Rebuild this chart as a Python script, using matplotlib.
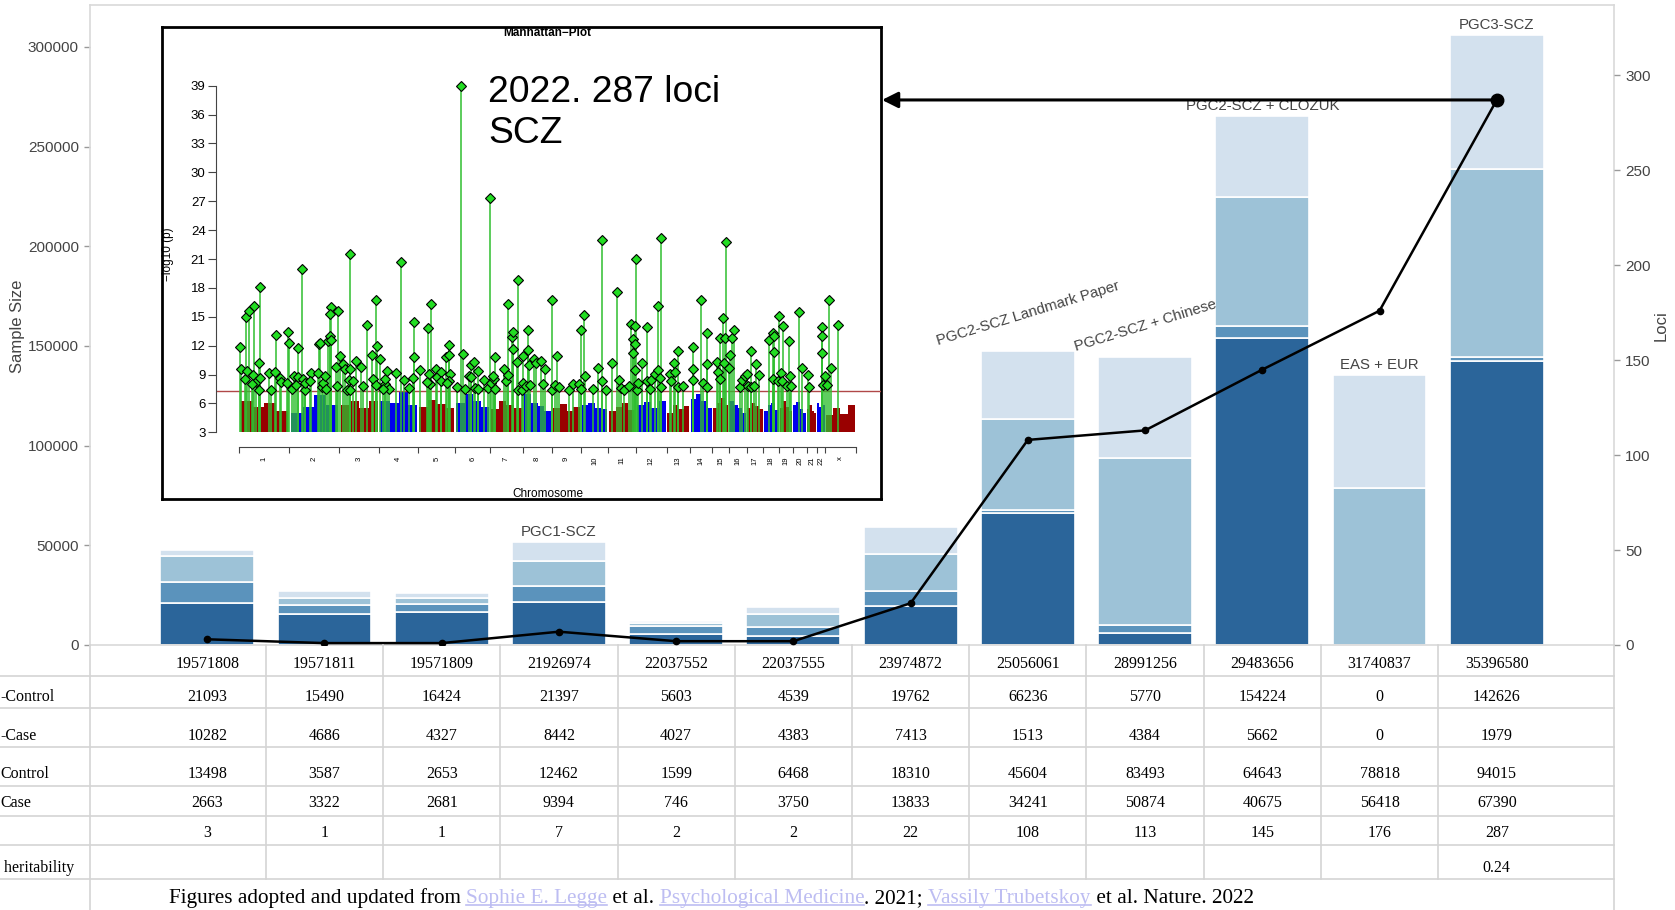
import numpy as np
import matplotlib
matplotlib.use("Agg")
import matplotlib.pyplot as plt
from matplotlib.transforms import blended_transform_factory

# --- study table -------------------------------------------------------------
pmid = ["19571808", "19571811", "19571809", "21926974", "22037552", "22037555",
        "23974872", "25056061", "28991256", "29483656", "31740837", "35396580"]
rep_control = [21093, 15490, 16424, 21397, 5603, 4539, 19762, 66236, 5770, 154224, 0, 142626]
rep_case = [10282, 4686, 4327, 8442, 4027, 4383, 7413, 1513, 4384, 5662, 0, 1979]
control = [13498, 3587, 2653, 12462, 1599, 6468, 18310, 45604, 83493, 64643, 78818, 94015]
case = [2663, 3322, 2681, 9394, 746, 3750, 13833, 34241, 50874, 40675, 56418, 67390]
loci = [3, 1, 1, 7, 2, 2, 22, 108, 113, 145, 176, 287]
heritability = ["", "", "", "", "", "", "", "", "", "", "", "0.24"]
row_labels = ["-Control", "-Case", "Control", "Case", "", " heritability"]

study_names = {3: "PGC1-SCZ", 7: "PGC2-SCZ Landmark Paper", 8: "PGC2-SCZ + Chinese",
               9: "PGC2-SCZ + CLOZUK", 10: "EAS + EUR", 11: "PGC3-SCZ"}
name_rotation = {7: 17, 8: 17}

seg_colors = ["#2b659a", "#5b93bc", "#9dc2d7", "#d3e1ee"]

# --- Manhattan inset ---------------------------------------------------------
chrom_names = [str(i) for i in range(1, 23)] + ["x"]
chrom_len = [250, 250, 200, 195, 185, 174, 163, 148, 142, 138, 137, 155,
             116, 112, 83, 89, 83, 80, 67, 70, 50, 42, 153]
# background band top (-log10 p), four bins per chromosome
band_top = [
    [6.3, 5.6, 6.0, 5.2], [5.0, 5.6, 6.9, 5.8], [5.8, 6.2, 5.5, 6.3], [6.2, 6.0, 7.3, 5.8],
    [5.6, 6.4, 5.9, 5.5], [6.0, 7.0, 6.2, 5.6], [5.4, 6.3, 5.8, 5.5], [7.0, 6.0, 5.7, 5.2],
    [5.5, 5.9, 5.2, 5.6], [5.8, 6.0, 5.5, 5.4], [5.2, 5.6, 6.0, 5.3], [5.8, 6.1, 5.5, 6.2],
    [5.0, 5.8, 5.4, 5.7], [6.5, 7.0, 6.2, 5.5], [5.5, 6.0, 6.6, 5.8], [6.2, 5.8, 5.5, 5.0],
    [5.5, 6.0, 5.7, 5.4], [5.2, 5.8, 6.0, 5.3], [5.5, 6.2, 5.6, 5.2], [5.8, 6.1, 5.4, 5.0],
    [5.4, 5.8, 5.2, 5.0], [6.0, 5.6, 5.3, 5.8], [4.8, 5.5, 4.9, 5.8]]
band_colors = ["#990000", "#0000ee"]

# lead SNPs: cumulative genome position, -log10 p
hits = [
    (4, 11.9), (9, 9.6), (32, 15.0), (30, 8.5), (37, 9.4), (47, 15.6), (67, 8.9), (75, 16.1),
    (82, 8.2), (62, 8.0), (99, 10.2), (102, 18.1), (99, 7.4), (104, 8.6), (159, 7.4), (150, 9.2),
    (179, 9.3), (182, 13.1), (204, 8.6), (210, 8.2), (237, 8.1), (245, 13.4),
    (250, 12.3), (262, 7.5), (274, 8.8), (282, 7.9), (292, 11.8), (292, 8.7), (314, 20.0),
    (320, 8.5), (330, 7.4), (329, 8.1), (359, 9.2), (354, 8.3), (392, 9.2), (400, 12.2),
    (405, 12.3), (412, 7.7), (417, 8.1), (429, 8.8), (432, 7.5), (444, 12.5), (455, 13.0),
    (459, 12.6), (457, 16.0), (455, 15.3), (492, 15.6), (484, 9.8), (489, 7.8),
    (504, 10.9), (520, 10.1), (529, 9.6), (537, 7.4), (554, 21.5), (555, 9.6), (555, 7.4),
    (550, 8.4), (567, 8.3), (584, 10.4), (609, 9.8), (620, 7.8), (640, 14.1), (664, 11.0),
    (667, 8.5), (684, 7.9), (687, 12.0), (685, 16.7), (704, 10.6),
    (729, 8.0), (729, 8.5), (737, 9.4), (749, 7.5), (720, 7.5), (785, 9.2), (807, 20.7),
    (824, 8.4), (849, 7.6), (874, 14.5), (875, 10.8), (870, 8.6),
    (904, 9.5), (942, 13.8), (947, 9.1), (957, 16.3), (954, 8.0), (940, 8.2), (984, 9.6),
    (987, 8.7), (1007, 9.3), (1007, 8.3), (1034, 10.8), (1049, 12.1), (1049, 11.0),
    (1054, 9.1), (1050, 8.3), (1040, 8.1),
    (1090, 7.7), (1107, 39.0), (1120, 11.1), (1129, 7.5), (1149, 8.8), (1157, 8.7),
    (1157, 10.0), (1174, 10.3), (1179, 7.6), (1192, 9.4), (1195, 7.5), (1225, 8.4),
    (1242, 7.6), (1254, 27.3),
    (1260, 8.1), (1272, 8.5), (1279, 10.8), (1270, 8.8), (1279, 7.5), (1325, 9.6),
    (1334, 8.3), (1342, 16.3), (1345, 9.0), (1362, 12.9), (1367, 13.4), (1367, 11.7),
    (1387, 10.3), (1392, 18.8), (1395, 7.4), (1417, 10.9), (1414, 7.4),
    (1420, 8.1), (1434, 7.8), (1442, 11.6), (1442, 13.6), (1450, 10.0), (1454, 7.9),
    (1474, 10.6), (1484, 10.2), (1507, 10.4), (1529, 9.6), (1520, 8.0), (1562, 16.7),
    (1562, 7.4),
    (1587, 10.9), (1579, 7.9), (1600, 7.7), (1650, 7.4), (1667, 8.0), (1699, 8.0),
    (1709, 13.6), (1710, 7.5),
    (1725, 15.2), (1729, 8.8), (1770, 7.5), (1795, 9.7), (1812, 23.0), (1812, 8.3),
    (1832, 7.4),
    (1865, 10.2), (1890, 17.6), (1899, 8.4), (1909, 7.6), (1925, 7.4), (1950, 7.8),
    (1957, 14.3), (1967, 12.7), (1970, 11.2), (1979, 14.0), (1979, 9.5), (1980, 12.2),
    (1982, 21.0), (1990, 7.4), (1995, 8.1), (2012, 10.2), (2037, 8.3), (2039, 13.9),
    (2054, 7.5), (2057, 8.4), (2079, 9.1), (2092, 16.1), (2095, 9.5), (2104, 8.6),
    (2107, 23.2), (2109, 7.7),
    (2154, 9.1), (2159, 8.3), (2175, 10.2), (2179, 9.3), (2195, 11.4), (2195, 7.7),
    (2220, 7.8),
    (2267, 11.9), (2267, 9.6), (2267, 8.4), (2309, 16.7), (2320, 8.1), (2337, 13.3),
    (2337, 10.1), (2340, 7.7),
    (2387, 10.3), (2392, 9.3), (2404, 8.5), (2404, 12.8), (2420, 14.9), (2425, 10.2),
    (2429, 12.8), (2434, 22.8),
    (2450, 9.7), (2454, 11.0), (2462, 12.8), (2475, 13.6), (2504, 7.7), (2515, 8.4),
    (2529, 8.8),
    (2540, 9.1), (2545, 7.8), (2557, 11.4), (2559, 7.7), (2575, 7.8), (2584, 10.1),
    (2600, 8.9),
    (2649, 12.6), (2667, 13.3), (2670, 8.5), (2674, 13.0), (2675, 11.3), (2695, 8.3),
    (2699, 15.1),
    (2709, 9.2), (2715, 8.3), (2720, 14.0), (2737, 7.8), (2749, 12.5), (2754, 8.8),
    (2757, 7.8),
    (2797, 15.5), (2812, 9.7), (2842, 9.0), (2847, 7.7),
    (2915, 13.9), (2915, 13.0), (2915, 11.2), (2917, 7.9),
    (2929, 8.8), (2937, 7.9), (2947, 16.7), (2957, 9.7), (2995, 14.1)]
gw_threshold = 7.3

W, H = 1675, 910
SANS = "Liberation Sans"
SERIF = "Liberation Serif"
plt.rcParams["font.family"] = [SANS, "DejaVu Sans"]

fig = plt.figure(figsize=(W / 100, H / 100), dpi=100)


def fx(px):
    return px / W


def fy(py):
    return 1 - py / H


def box(l, t, r, b):
    return [fx(l), fy(b), fx(r) - fx(l), fy(t) - fy(b)]


# --- stacked bars ------------------------------------------------------------
ax = fig.add_axes(box(90, 5, 1614, 645))
x = np.arange(len(pmid))
bottom = np.zeros(len(x))
for vals, col in zip([rep_control, rep_case, control, case], seg_colors):
    ax.bar(x, vals, 0.8, bottom=bottom, color=col, edgecolor="white", linewidth=1.2)
    bottom += np.array(vals)
ax.set_xlim(-1, 12)
ax.set_ylim(0, 321000)
ax.set_xticks([])
ax.set_yticks(np.arange(0, 300001, 50000))
ax.tick_params(axis="y", length=4, width=1, color="#999999", labelcolor="#444444",
               labelsize=11, pad=4)
for s in ax.spines.values():
    s.set_color("#d9d9d9")
    s.set_linewidth(1.2)

for i, name in study_names.items():
    ax.annotate(name, (i, bottom[i]), xytext=(0, 3), textcoords="offset pixels",
                ha="center", va="bottom", fontsize=10.8, color="#444444",
                rotation=name_rotation.get(i, 0))

fig.text(fx(18), fy(326), "Sample Size", rotation=90, ha="center", va="center",
         fontsize=12, color="#444444")

# --- loci line ---------------------------------------------------------------
ax2 = ax.twinx()
ax2.plot(x, loci, color="black", lw=1.8, marker="o", ms=4.5, zorder=3)
ax2.plot(x[-1], loci[-1], "o", color="black", ms=9, zorder=4)
ax2.set_ylim(0, 337)
ax2.set_yticks(np.arange(0, 301, 50))
ax2.tick_params(axis="y", length=4, width=1, color="#999999", labelcolor="#444444",
                labelsize=11, pad=4)
for s in ax2.spines.values():
    s.set_visible(False)
fig.text(fx(1661), fy(326), "Loci", rotation=90, ha="center", va="center",
         fontsize=12, color="#444444")

ax2.annotate("", xy=(fx(882), loci[-1]), xycoords=("figure fraction", "data"),
             xytext=(x[-1], loci[-1]), textcoords="data",
             arrowprops=dict(arrowstyle="-|>", color="black", lw=2.2,
                             mutation_scale=24, shrinkA=0, shrinkB=0))

# --- Manhattan inset ---------------------------------------------------------
frame = fig.add_axes(box(161.5, 26.7, 881, 499))
frame.set_xticks([])
frame.set_yticks([])
for s in frame.spines.values():
    s.set_linewidth(2)
    s.set_color("black")

man = fig.add_axes(box(216, 85.7, 881, 432.3))
man.patch.set_visible(False)
edges = np.concatenate([[0], np.cumsum(chrom_len)])
total = edges[-1]
man.set_xlim(-0.0378 * total, 1.041 * total)
man.set_ylim(3, 39)

for c in range(len(chrom_len)):
    gap = 0.03 * chrom_len[c]
    bins = np.linspace(edges[c] + gap, edges[c + 1] - gap, len(band_top[c]) + 1)
    man.stairs(band_top[c], bins, baseline=3, fill=True,
               color=band_colors[c % 2], lw=0, zorder=2)

man.axhline(gw_threshold, color="#b04848", lw=1, zorder=2.5)
hx = np.array([h[0] for h in hits])
hy = np.array([h[1] for h in hits])
man.vlines(hx, 3, hy, color="#2fbf2f", lw=1.1, zorder=3)
man.plot(hx, hy, "D", ms=4.6, mfc="#22dd22", mec="black", mew=0.8, ls="none",
         zorder=4, clip_on=False)

for side in ["top", "right"]:
    man.spines[side].set_visible(False)
man.spines["left"].set_bounds(3, 39)
man.spines["left"].set_color("#444444")
man.set_yticks(np.arange(3, 40, 3))
man.tick_params(axis="y", length=5.5, color="#444444", labelsize=9.5, pad=2)
man.spines["bottom"].set_position(("outward", 10.4))
man.spines["bottom"].set_bounds(0, total)
man.spines["bottom"].set_color("#444444")
man.set_xticks(edges)
man.set_xticklabels([])
man.set_xticks((edges[:-1] + edges[1:]) / 2, minor=True)
man.set_xticklabels(chrom_names, minor=True, rotation=90, fontsize=5.5)
man.tick_params(axis="x", which="major", length=4.5, color="#444444")
man.tick_params(axis="x", which="minor", length=0, pad=7)

fig.text(fx(547), fy(33), "Manhattan\u2212Plot", ha="center", va="center",
         fontsize=8.5, fontweight="bold")
fig.text(fx(548), fy(494), "Chromosome", ha="center", va="center", fontsize=8.5)
fig.text(fx(168), fy(254), "\u2212log10 (p)", rotation=90, ha="center", va="center",
         fontsize=8.5)
fig.text(fx(488), fy(101.7), "2022. 287 loci", fontsize=26.8, va="baseline")
fig.text(fx(488), fy(143.3), "SCZ", fontsize=26.8, va="baseline")

# --- table under the chart ---------------------------------------------------
line_col = "#d4d4d4"
tr = blended_transform_factory(ax.transData, fig.transFigure)
row_lines = [676, 708, 747, 786, 816, 845, 879]
for py in row_lines:
    fig.add_artist(plt.Line2D([0, fx(1614)], [fy(py), fy(py)], color=line_col, lw=1.2))
for xb in [-1, 12]:
    fig.add_artist(plt.Line2D([xb, xb], [fy(645), fy(910)], color=line_col, lw=1.2,
                              transform=tr))
for xb in x[:-1] + 0.5:
    fig.add_artist(plt.Line2D([xb, xb], [fy(645), fy(879)], color=line_col, lw=1.2,
                              transform=tr))

table_rows = [pmid, rep_control, rep_case, control, case, loci, heritability]
row_text_y = [664, 697, 736, 774, 803, 833, 868]
for vals, py in zip(table_rows, row_text_y):
    for i, v in enumerate(vals):
        fig.text(i, fy(py), str(v), transform=tr, ha="center", va="center",
                 fontsize=11.5, family=SERIF)
for lab, py in zip(row_labels, row_text_y[1:]):
    fig.text(0, fy(py), lab, ha="left", va="center", fontsize=11.5, family=SERIF)

# caption with link-styled names
caption = [("Figures adopted and updated from ", False), ("Sophie E. Legge", True),
           (" et al. ", False), ("Psychological Medicine", True), (". 2021; ", False),
           ("Vassily Trubetskoy", True), (" et al. Nature. 2022", False)]
link_col = "#bdbdf2"
renderer = fig.canvas.get_renderer()
probe = fig.text(0, 0, "".join(p for p, _ in caption), fontsize=14, family=SERIF)
cap_size = 14 * 1089 / probe.get_window_extent(renderer).width
probe.remove()

prev = None
for piece, is_link in caption:
    kw = dict(fontsize=cap_size, family=SERIF, va="bottom", ha="left",
              color=link_col if is_link else "black")
    if prev is None:
        t = fig.text(fx(169), fy(898), piece, **kw)
        t.set_va("center")
        fig.canvas.draw()
        bb = t.get_window_extent(renderer)
        t.set_va("bottom")
        t.set_position((fx(169), bb.y0 / H))
    else:
        t = fig.text(0, 0, piece, **kw)
        t.set_position((prev_bb.x1 / W, prev_bb.y0 / H))
    fig.canvas.draw()
    prev_bb = t.get_window_extent(renderer)
    if is_link:
        uy = (prev_bb.y0 + 3) / H
        fig.add_artist(plt.Line2D([prev_bb.x0 / W, prev_bb.x1 / W], [uy, uy],
                                  color=link_col, lw=1.2))
    prev = t

fig.savefig("out.png", dpi=100)
